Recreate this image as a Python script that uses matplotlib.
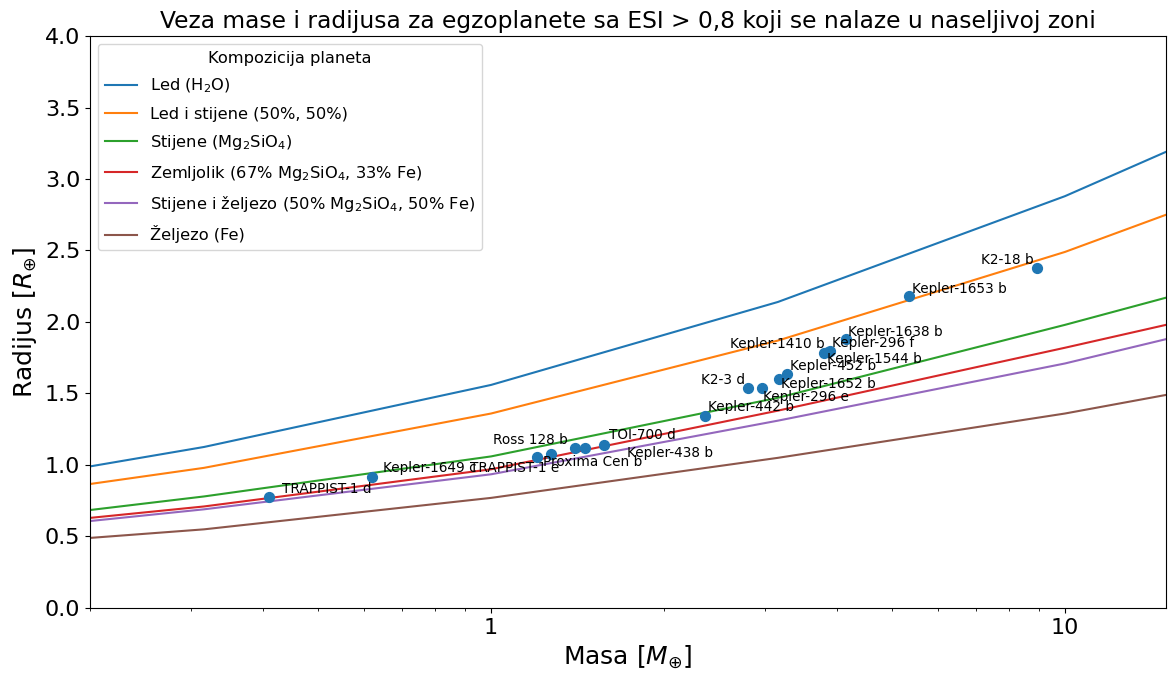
import numpy as np
from matplotlib import pyplot as plt

# mass-radius curves (mass in Earth masses)
masa = [0.2, 0.316, 1.0, 3.16, 10.0, 15.0]
led = [0.99, 1.126, 1.56, 2.14, 2.88, 3.19]
led_stijene = [0.867, 0.98, 1.36, 1.87, 2.49, 2.75]
stijene = [0.685, 0.78, 1.06, 1.47, 1.98, 2.17]
zemljolik = [0.63, 0.71, 0.97, 1.38, 1.82, 1.98]
stijene_zeljezo = [0.608, 0.69, 0.935, 1.31, 1.71, 1.88]
zeljezo = [0.49, 0.55, 0.77, 1.05, 1.36, 1.49]

krivulje = [
    (led, r'Led (H$_2$O)'),
    (led_stijene, 'Led i stijene (50%, 50%)'),
    (stijene, r'Stijene (Mg$_2$SiO$_4$)'),
    (zemljolik, r'Zemljolik (67% Mg$_2$SiO$_4$, 33% Fe)'),
    (stijene_zeljezo, r'Stijene i željezo (50% Mg$_2$SiO$_4$, 50% Fe)'),
    (zeljezo, 'Željezo (Fe)'),
]

# planets
imena = ['TRAPPIST-1 d', 'Kepler-1649 c', 'TRAPPIST-1 e', 'Proxima Cen b', 'Ross 128 b',
         'Kepler-438 b', 'TOI-700 d', 'Kepler-442 b', 'K2-3 d', 'Kepler-296 e',
         'Kepler-1652 b', 'Kepler-452 b', 'Kepler-1410 b', 'Kepler-1544 b', 'Kepler-296 f',
         'Kepler-1638 b', 'Kepler-1653 b', 'K2-18 b']
m_p = [0.411, 0.621, 1.20, 1.27, 1.40, 1.46, 1.57, 2.36, 2.80, 2.96,
       3.18, 3.28, 3.81, 3.86, 3.90, 4.16, 5.35, 8.94]
r_p = [0.776, 0.916, 1.056, 1.077, 1.119, 1.119, 1.14, 1.343, 1.538, 1.538,
       1.60, 1.636, 1.783, 1.79, 1.80, 1.88, 2.18, 2.38]

# label offsets in pixels (dx, dy, ha)
pomaci = [(13, 8, 'left'), (11, 9, 'left'), (23, -11, 'right'), (-8, -8, 'left'),
          (-7, 8, 'right'), (42, -5, 'left'), (5, 10, 'left'), (3, 9, 'left'),
          (-3, 8, 'right'), (1, -9, 'left'), (2, -5, 'left'), (3, 8, 'left'),
          (0, 9, 'right'), (-1, -7, 'left'), (2, 8, 'left'), (2, 7, 'left'),
          (3, 7, 'left'), (-3, 8, 'right')]

fig = plt.figure(figsize=(11.7, 6.73), dpi=100)
ax = fig.add_axes([0.0769, 0.0966, 0.9197, 0.8499])

for y, lab in krivulje:
    ax.plot(masa, y, label=lab)

ax.scatter(m_p, r_p, s=50, color='C0', zorder=3)
for ime, m, r, (dx, dy, ha) in zip(imena, m_p, r_p, pomaci):
    ax.annotate(ime, (m, r), xytext=(dx, dy), textcoords='offset pixels',
                ha=ha, va='center', fontsize=9.8)

ax.set_xscale('log')
ax.set_xlim(0.2, 15)
ax.set_ylim(0, 4)
ax.set_yticks(np.arange(0, 4.01, 0.5))
ax.set_xticks([1, 10])
ax.set_xticklabels(['1', '10'])
ax.tick_params(labelsize=16)
ax.set_xlabel(r'Masa [$M_{\oplus}$]', fontsize=18)
ax.set_ylabel(r'Radijus [$R_{\oplus}$]', fontsize=18)
ax.set_title('Veza mase i radijusa za egzoplanete sa ESI > 0,8 koji se nalaze u naseljivoj zoni',
             fontsize=16.8)
ax.legend(title='Kompozicija planeta', loc='upper left', fontsize=11.7, title_fontsize=11.7,
          labelspacing=0.7)

fig.savefig('out.png', dpi=100)
